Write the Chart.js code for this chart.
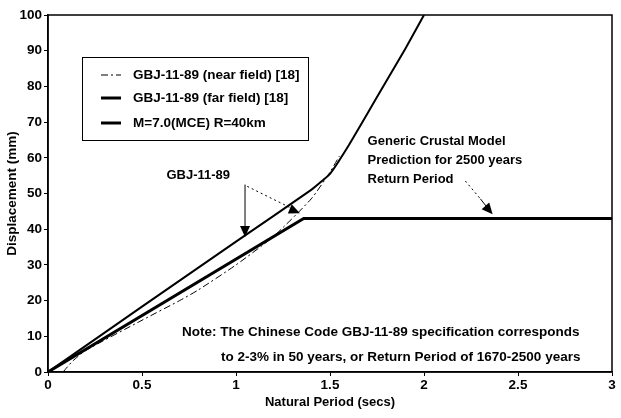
<!DOCTYPE html>
<html>
<head>
<meta charset="utf-8">
<script src="https://cdn.jsdelivr.net/npm/chart.js@4.4.1/dist/chart.umd.min.js"></script>
<style>
html,body{margin:0;padding:0;background:#fff;}
#wrap{width:621px;height:418px;position:relative;}
</style>
</head>
<body>
<div id="wrap"><canvas id="c" width="621" height="418"></canvas></div>
<script>
// ---- Data ----
const xTickLabels = ["0", "0.5", "1", "1.5", "2", "2.5", "3"];
const yTickLabels = ["0","10","20","30","40","50","60","70","80","90","100"];

const nearFieldT = [0.08, 0.13, 0.2, 0.5, 0.7, 0.8, 1.0, 1.2, 1.4, 1.5, 1.55];
const nearFieldD = [0, 3, 6, 14.5, 20, 23, 30, 38, 48.5, 56, 60.5];

const farFieldT = [0, 0.5, 1.0, 1.4, 1.5, 1.6, 1.7, 1.8, 1.9, 2.0];
const farFieldD = [0, 18.3, 36.5, 51, 55.5, 63.5, 72.5, 81.5, 90.5, 100];

const mceT = [0, 1.36, 3.0];
const mceD = [0, 43, 43];

const seriesLabels = ["GBJ-11-89 (near field) [18]", "GBJ-11-89 (far field) [18]", "M=7.0(MCE) R=40km"];

const noteLines = ["Note: The Chinese Code GBJ-11-89 specification corresponds",
                   "to 2-3% in 50 years, or Return Period of 1670-2500 years"];
const crustalLines = ["Generic Crustal Model", "Prediction for 2500 years", "Return Period"];
const gbjLabel = "GBJ-11-89";

const toPts = (xs, ys) => xs.map((x, i) => ({x: x, y: ys[i]}));

const FONT = "'Liberation Sans', Arial, sans-serif";

function arrowHead(ctx, x1, y1, x2, y2, len, half) {
  const a = Math.atan2(y2 - y1, x2 - x1);
  ctx.beginPath();
  ctx.moveTo(x2, y2);
  ctx.lineTo(x2 - len * Math.cos(a) + half * Math.sin(a), y2 - len * Math.sin(a) - half * Math.cos(a));
  ctx.lineTo(x2 - len * Math.cos(a) - half * Math.sin(a), y2 - len * Math.sin(a) + half * Math.cos(a));
  ctx.closePath();
  ctx.fill();
}

const decorPlugin = {
  id: 'decor',
  afterDatasetsDraw(chart) {
    const ctx = chart.ctx;
    const ca = chart.chartArea;
    const xs = chart.scales.x, ys = chart.scales.y;
    const px = v => xs.getPixelForValue(v);
    const py = v => ys.getPixelForValue(v);
    ctx.save();
    // frame
    ctx.strokeStyle = '#000';
    ctx.lineWidth = 1.5;
    ctx.strokeRect(ca.left, ca.top, ca.right - ca.left, ca.bottom - ca.top);

    // legend box
    const lx = 82, ly = 57, lw = 226, lh = 83;
    ctx.fillStyle = '#fff';
    ctx.fillRect(lx, ly, lw, lh);
    ctx.lineWidth = 1;
    ctx.strokeStyle = '#000';
    ctx.strokeRect(lx + 0.5, ly + 0.5, lw, lh);
    ctx.font = "bold 13.5px " + FONT;
    ctx.fillStyle = '#000';
    ctx.textBaseline = 'middle';
    const rows = [75, 98, 123];
    chart.data.datasets.forEach((ds, i) => {
      ctx.beginPath();
      ctx.lineWidth = i === 0 ? 1 : 3;
      ctx.setLineDash(i === 0 ? [7, 3, 2, 3] : []);
      ctx.moveTo(101, rows[i]);
      ctx.lineTo(121, rows[i]);
      ctx.stroke();
      ctx.setLineDash([]);
      ctx.fillText(ds.label, 133, rows[i] + 0.5);
    });

    // GBJ label and arrows
    ctx.font = "bold 13px " + FONT;
    ctx.textAlign = 'left';
    ctx.textBaseline = 'middle';
    ctx.fillText(gbjLabel, px(0.63), py(55));
    ctx.lineWidth = 1;
    // vertical arrow
    ctx.beginPath();
    ctx.moveTo(px(1.048), py(52.5));
    ctx.lineTo(px(1.048), py(40));
    ctx.stroke();
    arrowHead(ctx, px(1.048), py(45), px(1.048), py(37.8), 11, 5);
    // dotted arrow
    ctx.setLineDash([2, 3]);
    ctx.beginPath();
    ctx.moveTo(px(1.06), py(52));
    ctx.lineTo(px(1.29), py(46));
    ctx.stroke();
    ctx.setLineDash([]);
    arrowHead(ctx, px(1.2), py(47.6), px(1.34), py(44.5), 11, 5);

    // crustal text
    crustalLines.forEach((t, i) => {
      ctx.fillText(t, px(1.70), py(64.5) + i * 19);
    });
    ctx.setLineDash([2, 3]);
    ctx.beginPath();
    ctx.moveTo(px(2.22), py(53.5));
    ctx.lineTo(px(2.3), py(48.5));
    ctx.stroke();
    ctx.setLineDash([]);
    ctx.beginPath();
    ctx.moveTo(px(2.3), py(48.5));
    ctx.lineTo(px(2.33), py(46.5));
    ctx.stroke();
    arrowHead(ctx, px(2.26), py(50.6), px(2.365), py(44.2), 11, 5);

    // note text
    ctx.font = "bold 13.5px " + FONT;
    ctx.fillText(noteLines[0], 182, py(11));
    ctx.fillText(noteLines[1], 221, py(4));
    ctx.restore();
  }
};

const chart = new Chart(document.getElementById('c'), {
  type: 'line',
  data: {
    datasets: [
      {label: seriesLabels[0], data: toPts(nearFieldT, nearFieldD), borderColor: '#000', borderWidth: 1,
       borderDash: [7, 3, 2, 3], pointRadius: 0, fill: false, tension: 0.2},
      {label: seriesLabels[1], data: toPts(farFieldT, farFieldD), borderColor: '#000', borderWidth: 2,
       pointRadius: 0, fill: false, tension: 0.1},
      {label: seriesLabels[2], data: toPts(mceT, mceD), borderColor: '#000', borderWidth: 3,
       pointRadius: 0, fill: false, tension: 0}
    ]
  },
  options: {
    responsive: false,
    animation: false,
    devicePixelRatio: 1,
    layout: {padding: {left: 4, right: 9, top: 15, bottom: 4}},
    plugins: {legend: {display: false}, tooltip: {enabled: false}},
    scales: {
      x: {
        type: 'linear', min: 0, max: 3,
        afterBuildTicks: s => { s.ticks = xTickLabels.map(v => ({value: parseFloat(v)})); },
        ticks: {color: '#000', font: {family: FONT, size: 13.5, weight: 'bold'}, padding: 1,
                callback: (v, i) => xTickLabels[i], maxRotation: 0, autoSkip: false},
        grid: {display: true, drawOnChartArea: false, tickLength: 4, color: '#000'},
        border: {color: '#000', width: 1.5},
        title: {display: true, text: 'Natural Period (secs)', color: '#000',
                font: {family: FONT, size: 13, weight: 'bold'}, padding: {top: 0, bottom: 4}},
        afterFit: s => { s.height = 42; }
      },
      y: {
        type: 'linear', min: 0, max: 100,
        afterBuildTicks: s => { s.ticks = yTickLabels.map(v => ({value: parseFloat(v)})); },
        ticks: {color: '#000', font: {family: FONT, size: 13.5, weight: 'bold'}, padding: 2,
                callback: (v, i) => yTickLabels[i], autoSkip: false},
        grid: {display: true, drawOnChartArea: false, tickLength: 4, color: '#000'},
        border: {color: '#000', width: 1.5},
        title: {display: true, text: 'Displacement (mm)', color: '#000',
                font: {family: FONT, size: 13.5, weight: 'bold'}, padding: {top: 0, bottom: 0}},
        afterFit: s => { s.width = 44; }
      }
    }
  },
  plugins: [decorPlugin]
});
</script>
</body>
</html>
